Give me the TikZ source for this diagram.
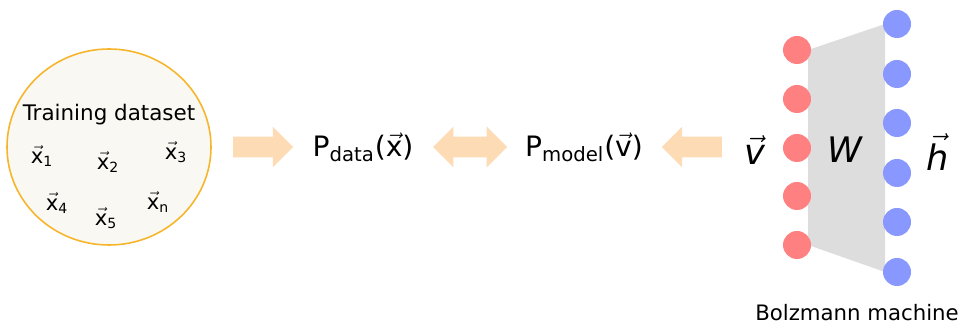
\documentclass[tikz,border=0pt]{standalone}
\usepackage{fontspec}
\setmainfont{DejaVu Sans}
\usepackage{xcolor}
\usetikzlibrary{shapes.geometric,shapes.arrows,backgrounds}
\definecolor{SetEdge}{HTML}{F6B52A}
\definecolor{SetFill}{HTML}{FAF8F3}
\definecolor{Flow}{HTML}{FDDBB4}
\definecolor{Visible}{HTML}{FF8080}
\definecolor{Hidden}{HTML}{8898FF}
\definecolor{Weights}{HTML}{DDDDDD}
\begin{document}
\begin{tikzpicture}[every node/.style={text=black},fatarrow/.style={single arrow,fill=Flow,draw=none,minimum height=1.2cm,inner xsep=0pt,inner ysep=0.2cm,single arrow head extend=0.2cm,single arrow tip angle=90},dblarrow/.style={double arrow,fill=Flow,draw=none,minimum height=1.48cm,inner xsep=0pt,inner ysep=0.2cm,double arrow head extend=0.2cm,double arrow tip angle=90},unit/.style={circle,minimum size=0.56cm,inner sep=0pt}]
\useasboundingbox (0,0) rectangle (19.26,6.5);
\node[ellipse,draw=SetEdge,fill=SetFill,line width=0.9pt,minimum width=4.08cm,minimum height=3.92cm](dataset) at (2.18,3.56){};
\node[font=\fontsize{12.2}{14}\selectfont](title) at (2.18,4.20){Training dataset};
\newcommand{\sample}[3]{\node[font=\fontsize{12}{14}\selectfont](#1) at (#2){$\vec{\mathrm{x}}_{\mathrm{#3}}$};}
\sample{x1}{0.84,3.38}{1}
\sample{x2}{2.16,3.26}{2}
\sample{x3}{3.52,3.46}{3}
\sample{x4}{1.14,2.44}{4}
\sample{x5}{2.12,2.14}{5}
\sample{xn}{3.16,2.46}{n}
\node[fatarrow](a1) at (5.16,3.56){};
\node[font=\fontsize{16}{19}\selectfont](pdata) at (7.26,3.56){P\textsubscript{data}($\vec{\mathrm{x}}$)};
\node[dblarrow](a2) at (9.40,3.56){};
\node[font=\fontsize{16}{19}\selectfont](pmodel) at (11.68,3.56){P\textsubscript{model}($\vec{\mathrm{v}}$)};
\node[fatarrow,shape border rotate=180](a3) at (13.94,3.56){};
\node[font=\fontsize{20}{24}\selectfont](vlab) at (15.10,3.50){$\vec{\mathit{v}}$};
\node[font=\fontsize{20}{24}\selectfont](hlab) at (18.76,3.46){$\vec{\mathit{h}}$};
% visible and hidden units
\foreach \i/\y in {1/5.50,2/4.52,3/3.54,4/2.58,5/1.60}
  \node[unit,fill=Visible](v\i) at (15.94,\y){};
\foreach \i/\y in {1/6.02,2/5.02,3/4.04,4/3.04,5/2.06,6/1.06}
  \node[unit,fill=Hidden](h\i) at (17.94,\y){};
\begin{scope}[on background layer]
\fill[Weights] ([xshift=0.22cm]v1.center)--([xshift=-0.24cm]h1.center)--([xshift=-0.24cm]h6.center)--([xshift=0.22cm]v5.center)--cycle;
\end{scope}
\node[font=\fontsize{20}{24}\selectfont](wlab) at (16.90,3.50){$\mathit{W}$};
\node[font=\fontsize{12.1}{14}\selectfont](bm) at (17.14,0.24){Bolzmann machine};
\end{tikzpicture}
\end{document}
